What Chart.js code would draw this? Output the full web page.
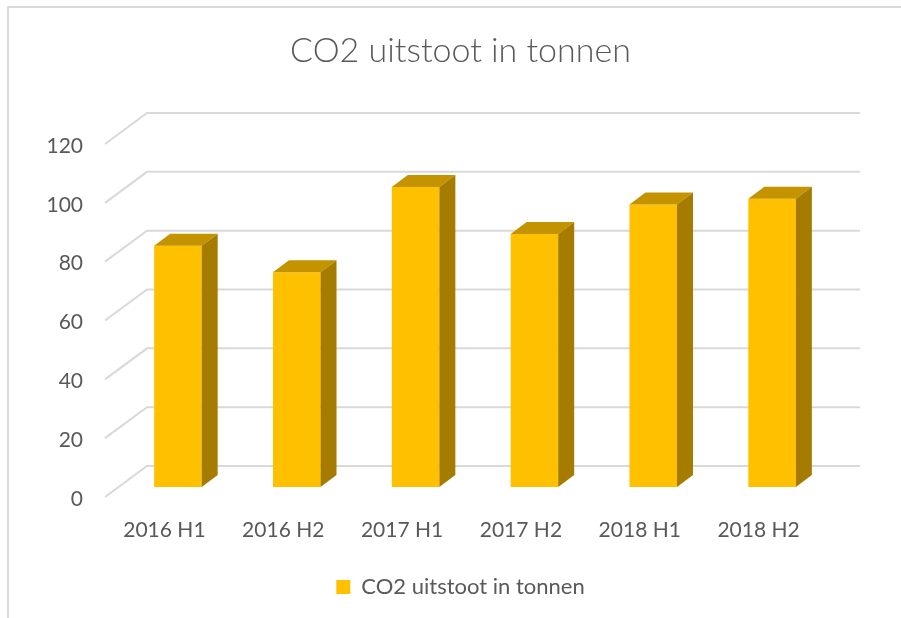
<!DOCTYPE html>
<html><head><meta charset="utf-8">
<script src="https://cdn.jsdelivr.net/npm/chart.js@4/dist/chart.umd.min.js"></script>
<style>html,body{margin:0;padding:0;background:#fff;}canvas{display:block;}</style>
</head><body>
<canvas id="c" width="901" height="618"></canvas>
<script>
// ---- data ----
const categories = ['2016 H1', '2016 H2', '2017 H1', '2017 H2', '2018 H1', '2018 H2'];
const co2Values = [82, 73, 102, 86, 96, 98];
const yTickValues = [0, 20, 40, 60, 80, 100, 120];
const seriesName = 'CO2 uitstoot in tonnen';
const chartTitle = 'CO2 uitstoot in tonnen';

// ---- style constants ----
const TEXT = '#595959';
const GRID = '#d9d9d9';
const FRONT = '#FFC000';
const TOP = '#C49300';
const SIDE = '#A67C00';
const WALL_DX = 42, WALL_DY = -31;   // depth of the floor
const SHIFT_X = 13.5, SHIFT_Y = -10; // bar plane offset
const BAR_DX = 16, BAR_DY = -12;     // bar depth

const threeD = {
  id: 'threeD',
  beforeDraw(chart) {
    const ctx = chart.ctx;
    ctx.save();
    ctx.fillStyle = '#fff';
    ctx.fillRect(0, 0, chart.width, chart.height);
    ctx.strokeStyle = GRID;
    ctx.lineWidth = 2;
    ctx.strokeRect(8, 7, 1200, 1200);
    ctx.restore();
  },
  beforeDatasetsDraw(chart) {
    const { ctx, chartArea: a, scales: { y } } = chart;
    ctx.save();
    ctx.strokeStyle = GRID;
    ctx.lineWidth = 2;
    y.ticks.forEach(t => {
      const py = y.getPixelForValue(t.value);
      ctx.beginPath();
      ctx.moveTo(a.left, py);
      ctx.lineTo(a.left + WALL_DX, py + WALL_DY);
      ctx.lineTo(a.right + WALL_DX, py + WALL_DY);
      ctx.stroke();
    });
    ctx.restore();
    ctx.save();
    ctx.translate(SHIFT_X, SHIFT_Y);
  },
  afterDatasetsDraw(chart) {
    const ctx = chart.ctx;
    chart.getDatasetMeta(0).data.forEach(bar => {
      const { x, y, base, width } = bar.getProps(['x', 'y', 'base', 'width'], true);
      const l = x - width / 2, r = x + width / 2;
      ctx.fillStyle = TOP;
      ctx.beginPath();
      ctx.moveTo(l, y); ctx.lineTo(l + BAR_DX, y + BAR_DY);
      ctx.lineTo(r + BAR_DX, y + BAR_DY); ctx.lineTo(r, y);
      ctx.closePath(); ctx.fill();
      ctx.fillStyle = SIDE;
      ctx.beginPath();
      ctx.moveTo(r, y); ctx.lineTo(r + BAR_DX, y + BAR_DY);
      ctx.lineTo(r + BAR_DX, base + BAR_DY); ctx.lineTo(r, base);
      ctx.closePath(); ctx.fill();
    });
    ctx.restore();
  }
};

Chart.defaults.font.family = 'Lato, "Open Sans", sans-serif';
Chart.defaults.color = TEXT;

new Chart(document.getElementById('c'), {
  type: 'bar',
  data: {
    labels: categories,
    datasets: [{
      label: seriesName,
      data: co2Values,
      backgroundColor: FRONT,
      borderWidth: 0,
      categoryPercentage: 1,
      barPercentage: 0.4,
      clip: false
    }]
  },
  options: {
    responsive: false,
    animation: false,
    events: [],
    layout: { padding: { left: 20, right: 0, top: 0, bottom: 10 } },
    plugins: {
      title: {
        display: true, text: chartTitle, color: TEXT,
        font: { size: 34, weight: '300' },
        padding: { top: 30.6, bottom: 72.6 }
      },
      legend: {
        position: 'bottom',
        labels: { boxWidth: 14, boxHeight: 14, font: { size: 22 }, color: TEXT, padding: 10 }
      },
      tooltip: { enabled: false }
    },
    scales: {
      x: {
        grid: { display: false, drawTicks: false },
        border: { display: false },
        ticks: { font: { size: 21 }, color: TEXT, padding: 21 },
        afterFit(s) { s.height = 69; }
      },
      y: {
        min: yTickValues[0], max: yTickValues[yTickValues.length - 1],
        afterBuildTicks(s) { s.ticks = yTickValues.map(v => ({ value: v })); },
        ticks: { font: { size: 21 }, color: TEXT, padding: 22, labelOffset: 2 },
        grid: { display: false, drawTicks: false },
        border: { display: false },
        afterFit(s) { s.width = 85; }
      },
      yRight: {
        position: 'right',
        ticks: { display: false },
        grid: { display: false, drawTicks: false },
        border: { display: false },
        afterFit(s) { s.width = 83; }
      }
    }
  },
  plugins: [threeD]
});
</script>
</body></html>
